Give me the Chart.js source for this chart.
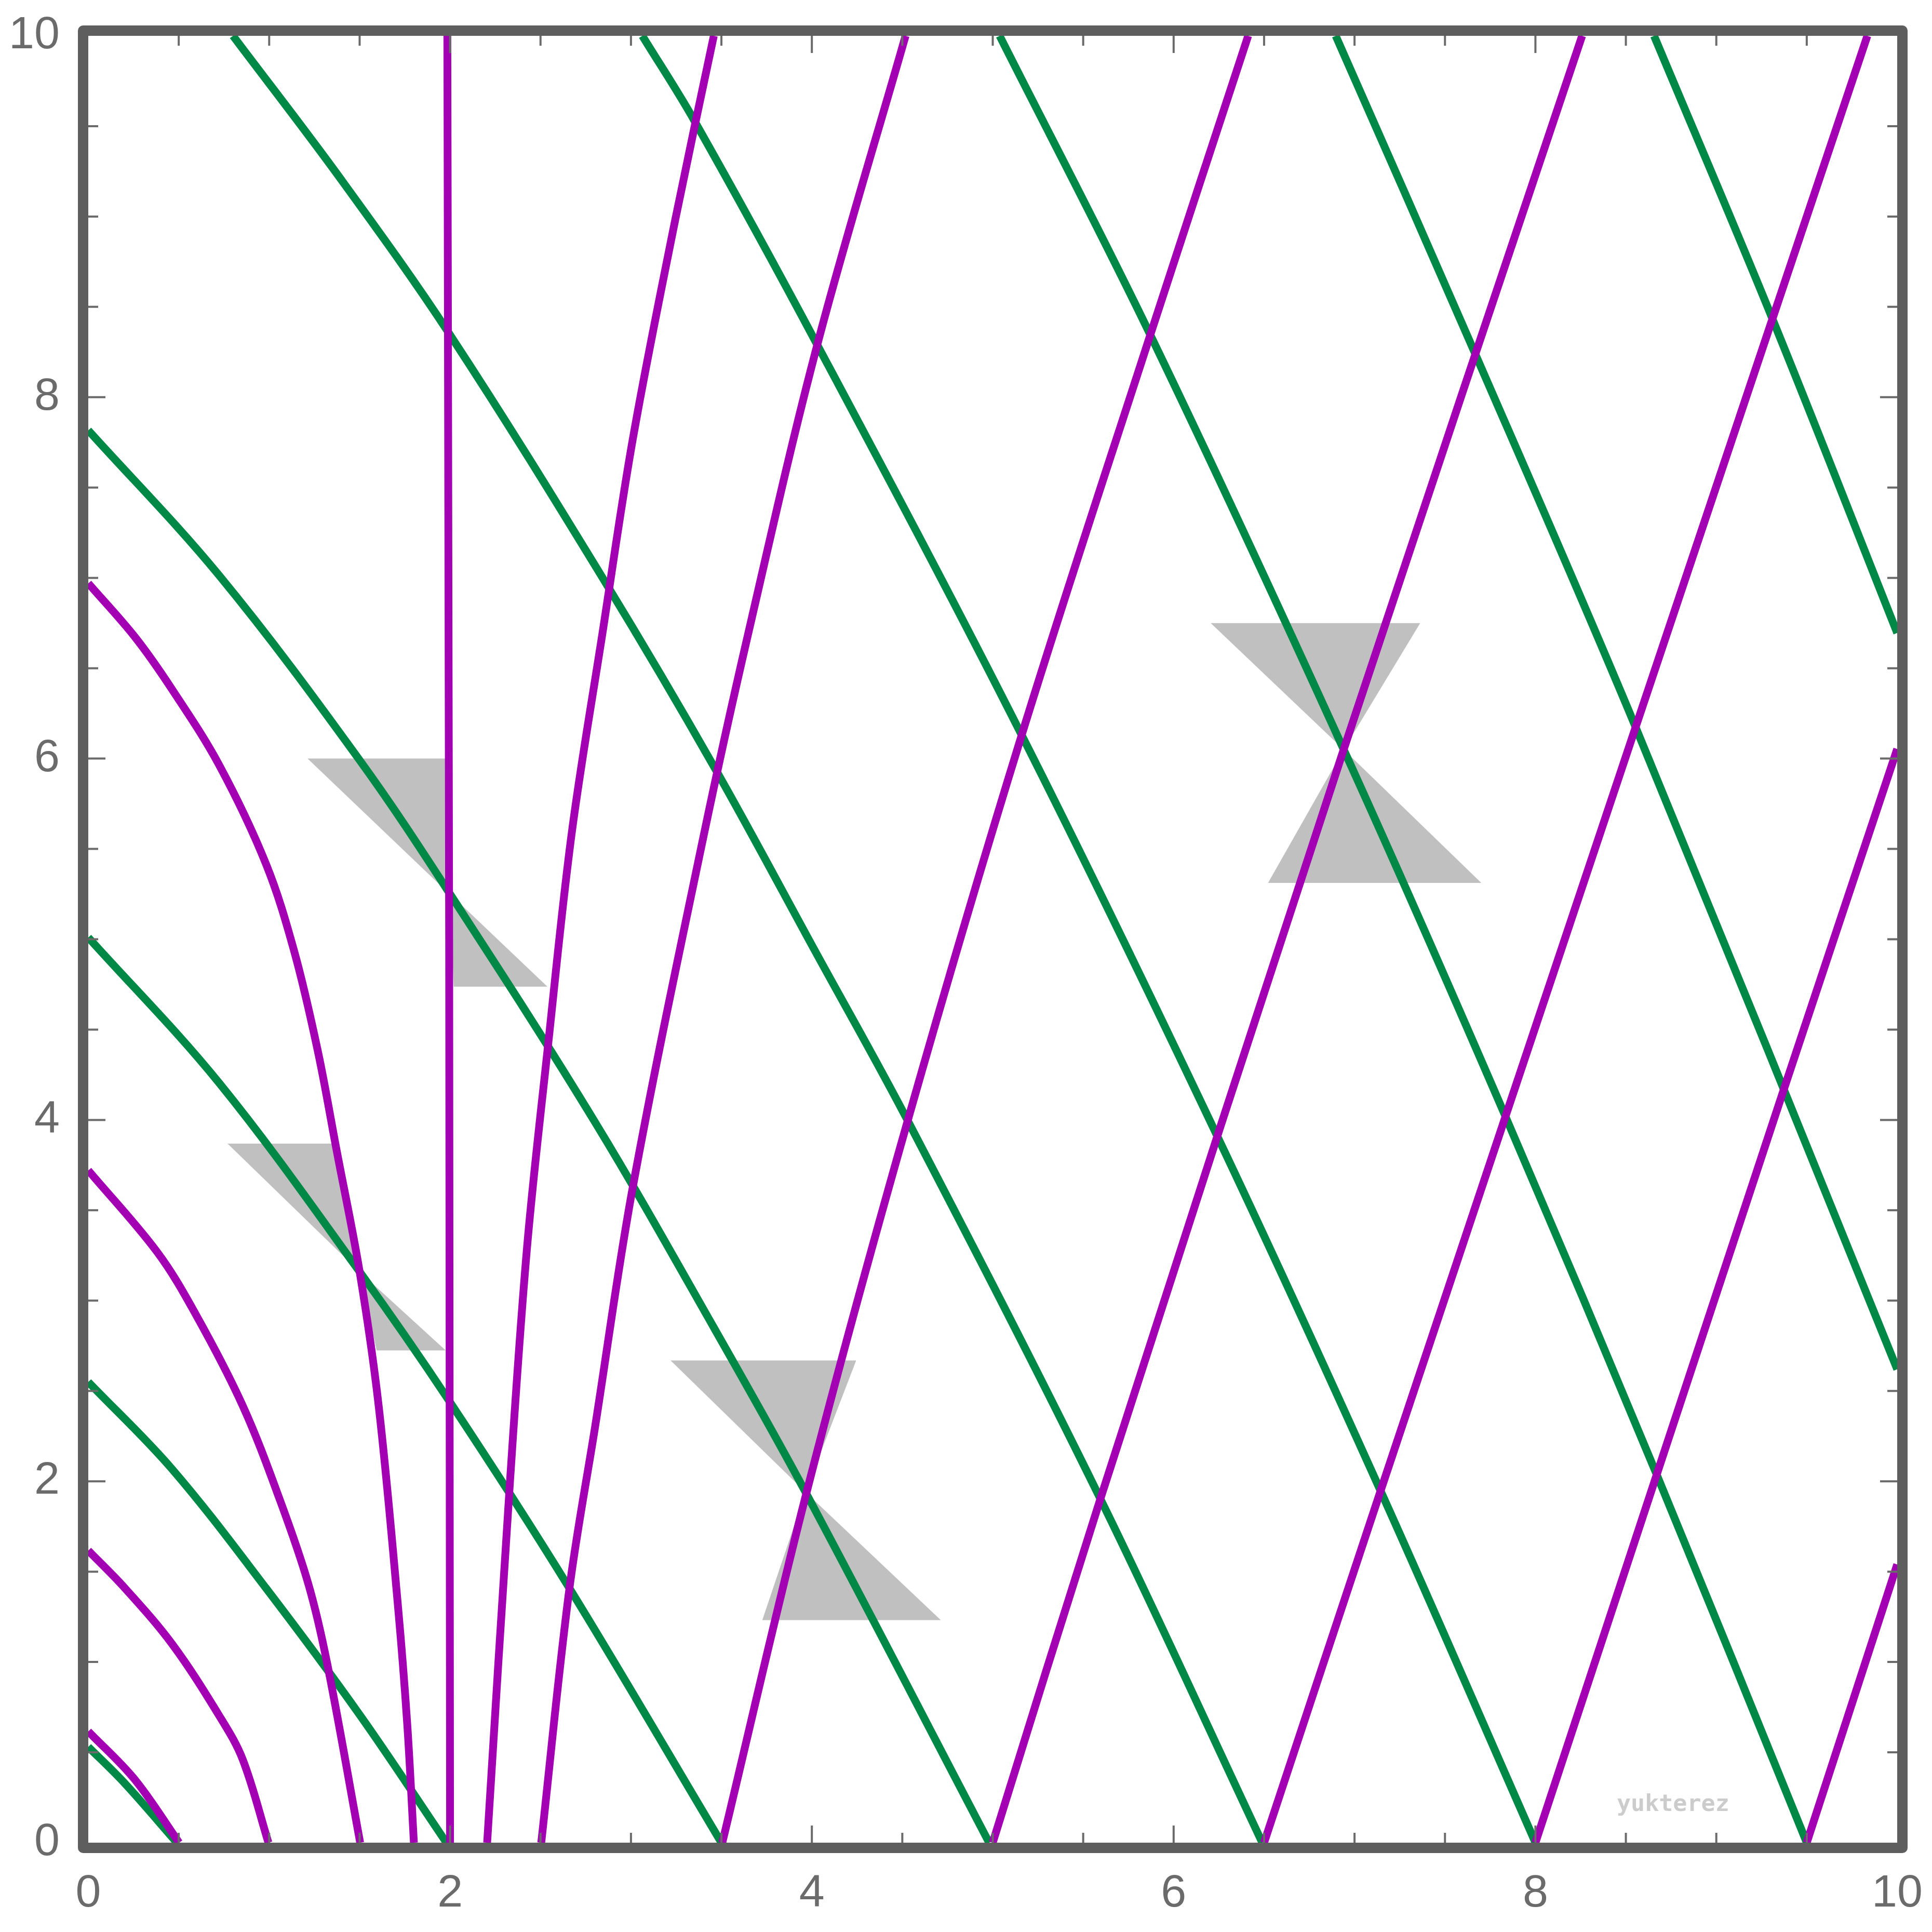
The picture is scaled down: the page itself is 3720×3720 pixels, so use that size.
<!DOCTYPE html>
<html>
<head>
<meta charset="utf-8">
<script src="https://cdn.jsdelivr.net/npm/chart.js@4.4.1/dist/chart.umd.min.js"></script>
<style>
    html, body { margin: 0; padding: 0; background: #ffffff; }
</style>
</head>
<body>
<canvas id="chart-raios" width="3720" height="3720"></canvas>
<script>
// ingoing rays (green) as [r, t]
const greenRay1 = [[0, 0.53], [0.2, 0.33], [0.49, 0]];
const greenRay2 = [[0, 2.55], [0.463, 2.068], [0.983, 1.408], [1.503, 0.704], [1.98, 0]];
const greenRay3 = [[0, 5.01], [0.723, 4.205], [1.5, 3.16], [1.997, 2.442], [2.66, 1.408], [3.5, 0]];
const greenRay4 = [[0, 7.817], [0.723, 7.014], [1.503, 5.987], [2.0, 5.25], [2.803, 3.985], [3.453, 2.86], [3.965, 1.94], [4.98, 0]];
const greenRay5 = [[0.8, 10], [1.399, 9.203], [2.0, 8.345], [2.855, 6.981], [3.466, 5.943], [4.02, 4.931], [4.53, 3.996], [5.595, 1.903], [6.49, 0]];
const greenRay6 = [[3.063, 10], [3.349, 9.533], [4.03, 8.29], [5.16, 6.13], [6.237, 3.919], [7.144, 1.947], [8.0, 0]];
const greenRay7 = [[5.038, 10], [5.871, 8.345], [6.94, 6.05], [7.835, 4.018], [8.676, 2.024], [9.5, 0]];
const greenRay8 = [[6.896, 10], [7.66, 8.257], [8.554, 6.174], [10, 2.62]];
const greenRay9 = [[8.656, 10], [9.306, 8.444], [10, 6.695]];

// outgoing rays (purple)
const purpleRay1 = [[0, 0.616], [0.255, 0.352], [0.502, 0]];
const purpleRay2 = [[0, 1.617], [0.203, 1.408], [0.463, 1.1], [0.723, 0.704], [0.853, 0.462], [0.996, 0]];
const purpleRay3 = [[0, 3.721], [0.38, 3.27], [0.593, 2.926], [0.853, 2.42], [1.061, 1.892], [1.217, 1.43], [1.321, 0.99], [1.503, 0]];
const purpleRay4 = [[0, 6.97], [0.26, 6.67], [0.463, 6.383], [0.723, 5.965], [0.983, 5.415], [1.139, 4.931], [1.269, 4.381], [1.373, 3.831], [1.5, 3.16], [1.605, 2.42], [1.711, 1.32], [1.763, 0.66], [1.8, 0]];
const purpleHorizon = [[1.985, 10], [1.995, 5], [2.0, 0]];
const purpleRay5 = [[2.205, 0], [2.33, 1.98], [2.426, 3.3], [2.543, 4.425], [2.673, 5.591], [2.842, 6.691], [3.011, 7.773], [3.245, 8.983], [3.458, 10]];
const purpleRay6 = [[2.504, 0], [2.66, 1.408], [2.803, 2.31], [3.011, 3.633], [3.401, 5.569], [3.648, 6.691], [4.03, 8.29], [4.518, 10]];
const purpleRay7 = [[3.505, 0], [3.973, 1.947], [4.53, 3.996], [5.16, 6.13], [5.871, 8.345], [6.412, 10]];
const purpleRay8 = [[5.0, 0], [5.595, 1.903], [6.94, 6.05], [8.258, 10]];
const purpleRay9 = [[6.5, 0], [7.144, 1.947], [8.554, 6.174], [9.835, 10]];
const purpleRay10 = [[8.0, 0], [9.367, 4.15], [10, 6.053]];
const purpleRay11 = [[9.5, 0], [10, 1.54]];

// light cones (gray hourglasses), each triangle by its corners
const cone1Upper = [[1.212, 6.0], [1.98, 6.0], [1.997, 5.25]];
const cone1Lower = [[2.0, 5.25], [2.02, 4.738], [2.538, 4.738]];
const cone2Upper = [[0.77, 3.869], [1.368, 3.869], [1.503, 3.157]];
const cone2Lower = [[1.503, 3.157], [1.594, 2.724], [1.976, 2.724]];
const cone3Upper = [[3.219, 2.669], [4.245, 2.669], [3.965, 1.94]];
const cone3Lower = [[3.965, 1.94], [3.726, 1.232], [4.713, 1.232]];
const cone4Upper = [[6.205, 6.75], [7.363, 6.75], [6.94, 6.05]];
const cone4Lower = [[6.94, 6.05], [6.522, 5.312], [7.701, 5.312]];

const greenRays = [greenRay1, greenRay2, greenRay3, greenRay4, greenRay5, greenRay6, greenRay7, greenRay8, greenRay9];
const purpleRays = [purpleRay1, purpleRay2, purpleRay3, purpleRay4, purpleHorizon, purpleRay5, purpleRay6, purpleRay7, purpleRay8, purpleRay9, purpleRay10, purpleRay11];
const cones = [cone1Upper, cone1Lower, cone2Upper, cone2Lower, cone3Upper, cone3Lower, cone4Upper, cone4Lower];

const corVerde = '#008846';
const corRoxa = '#a300b3';
const corCone = '#c0c0c0';
const corEixo = '#5e5e5e';
const corTexto = '#6b6b6b';

const toPoints = arr => arr.map(([x, y]) => ({ x, y }));

const datasets = [];
cones.forEach(tri => {
    const s = [...tri].sort((a, b) => a[0] - b[0]);
    datasets.push({ data: toPoints([s[0], s[2]]), borderWidth: 0, fill: false, tension: 0, order: 3 });
    datasets.push({ data: toPoints(s), borderWidth: 0, backgroundColor: corCone, fill: '-1', tension: 0, order: 3 });
});
greenRays.forEach(ray => {
    datasets.push({ data: toPoints(ray), borderColor: corVerde, borderWidth: 15, fill: false, tension: 0.35, order: 2 });
});
purpleRays.forEach(ray => {
    datasets.push({
        data: toPoints(ray),
        borderColor: corRoxa,
        borderWidth: 15,
        fill: false,
        tension: ray === purpleHorizon ? 0 : 0.35,
        order: 1
    });
});

const molduraPlugin = {
    id: 'moldura',
    afterDraw(chart) {
        const { ctx, chartArea: a, scales: { x, y } } = chart;
        ctx.save();
        ctx.strokeStyle = corTexto;
        ctx.lineWidth = 4;
        ctx.beginPath();
        for (let v = 0.5; v < 10; v += 0.5) {
            const len = v % 2 === 0 ? 33 : 19;
            const px = x.getPixelForValue(v);
            const py = y.getPixelForValue(v);
            ctx.moveTo(px, a.bottom); ctx.lineTo(px, a.bottom - len);
            ctx.moveTo(px, a.top); ctx.lineTo(px, a.top + len);
            ctx.moveTo(a.left, py); ctx.lineTo(a.left + len, py);
            ctx.moveTo(a.right, py); ctx.lineTo(a.right - len, py);
        }
        ctx.stroke();

        ctx.strokeStyle = corEixo;
        ctx.lineWidth = 20;
        ctx.lineJoin = 'round';
        ctx.strokeRect(a.left - 10, a.top - 10, a.right - a.left + 20, a.bottom - a.top + 20);

        ctx.fillStyle = '#cccccc';
        ctx.font = 'bold 45px "DejaVu Sans Mono"';
        ctx.textBaseline = 'alphabetic';
        ctx.textAlign = 'left';
        ctx.fillText('yukterez', 3113, 3487);
        ctx.restore();
    }
};

const fonteEixo = { family: "'Liberation Sans', Arial, sans-serif", size: 88 };

new Chart(document.getElementById('chart-raios'), {
    type: 'line',
    data: { datasets },
    options: {
        responsive: false,
        devicePixelRatio: 1,
        animation: false,
        events: [],
        layout: { padding: { top: 69, right: 67, bottom: 0, left: 0 } },
        elements: { point: { radius: 0 } },
        plugins: {
            legend: { display: false },
            tooltip: { enabled: false }
        },
        scales: {
            x: {
                type: 'linear',
                min: 0,
                max: 10,
                ticks: { stepSize: 2, color: corTexto, font: fonteEixo, padding: 38, maxRotation: 0, autoSkip: false },
                grid: { display: false },
                border: { display: false },
                afterFit(scale) {
                    scale.height = 172;
                    scale.paddingLeft = 0;
                    scale.paddingRight = 0;
                }
            },
            y: {
                type: 'linear',
                min: 0,
                max: 10,
                ticks: { stepSize: 2, color: corTexto, font: fonteEixo, padding: 47 },
                grid: { display: false },
                border: { display: false },
                afterFit(scale) {
                    scale.width = 170;
                    scale.paddingTop = 0;
                    scale.paddingBottom = 0;
                }
            }
        }
    },
    plugins: [molduraPlugin]
});
</script>
</body>
</html>
